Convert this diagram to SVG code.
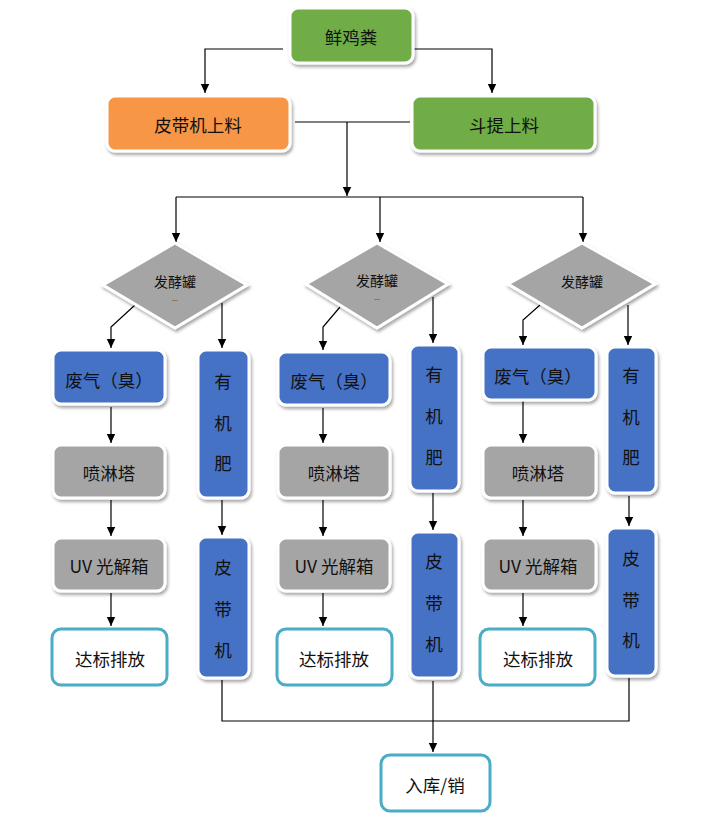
<svg xmlns="http://www.w3.org/2000/svg" width="711" height="821" viewBox="0 0 711 821">
<defs>
<filter id="sh" x="-20%" y="-20%" width="140%" height="140%">
<feDropShadow dx="1.5" dy="2.5" stdDeviation="1.5" flood-color="#000" flood-opacity="0.35"/>
</filter>
<marker id="ar" markerWidth="10" markerHeight="10" refX="9" refY="5" orient="auto" markerUnits="userSpaceOnUse">
<path d="M0,0.8 L9,5 L0,9.2 Z" fill="#000"/>
</marker>
</defs>
<style>
.b{stroke:#fff;stroke-width:3;filter:url(#sh)}
.g{fill:#70AD47}.o{fill:#F79646}.bl{fill:#4472C4}.gr{fill:#A5A5A5}
.w{fill:#fff;stroke:#4BACC6;stroke-width:3}
.t{font-family:"Noto Sans CJK SC","Liberation Sans",sans-serif;font-size:17.5px;fill:#111;text-anchor:middle;dominant-baseline:central}
.s{font-size:14px}
.d{font-size:7px;fill:#333}
.c line,.c polyline{stroke:#000;stroke-width:1.2;fill:none}
.a{marker-end:url(#ar)}
</style>
<rect width="711" height="821" fill="#fff"/>

<g class="c">
<polyline points="283,49 205,49 205,93" class="a"/>
<polyline points="414,49 492,49 492,93" class="a"/>
<line x1="295" y1="122" x2="410" y2="122"/>
<line x1="347" y1="122" x2="347" y2="196" class="a"/>
<line x1="176" y1="197" x2="583" y2="197"/>
<line x1="176" y1="197" x2="176" y2="242" class="a"/>
<line x1="380" y1="197" x2="380" y2="242" class="a"/>
<line x1="583" y1="197" x2="583" y2="242" class="a"/>
<polyline points="135,305 111,327 111,348" class="a"/>
<line x1="222" y1="303" x2="222" y2="348" class="a"/>
<polyline points="340,307 323,327 323,350" class="a"/>
<line x1="433" y1="297" x2="433" y2="343" class="a"/>
<polyline points="540,305 523,320 523,345" class="a"/>
<line x1="628" y1="305" x2="628" y2="345" class="a"/>
<line x1="111" y1="407" x2="111" y2="443" class="a"/>
<line x1="111" y1="500" x2="111" y2="536" class="a"/>
<line x1="111" y1="593" x2="111" y2="626" class="a"/>
<line x1="222" y1="500" x2="222" y2="535" class="a"/>
<line x1="323" y1="408" x2="323" y2="443" class="a"/>
<line x1="323" y1="500" x2="323" y2="536" class="a"/>
<line x1="323" y1="593" x2="323" y2="626" class="a"/>
<line x1="433" y1="493" x2="433" y2="530" class="a"/>
<line x1="523" y1="401" x2="523" y2="443" class="a"/>
<line x1="523" y1="500" x2="523" y2="536" class="a"/>
<line x1="523" y1="593" x2="523" y2="626" class="a"/>
<line x1="629" y1="496" x2="629" y2="526" class="a"/>
<polyline points="222,680 222,721 629,721 629,678"/>
<line x1="433" y1="681" x2="433" y2="752" class="a"/>
</g>

<g id="n-xianjifen"><rect class="b g" x="290" y="8" width="123" height="55" rx="8"/><text class="t" x="351" y="36">鲜鸡粪</text></g>
<g id="n-pidaiji-shangliao"><rect class="b o" x="107" y="96" width="183" height="55" rx="8"/><text class="t" x="198" y="124">皮带机上料</text></g>
<g id="n-doudi-shangliao"><rect class="b g" x="412" y="96" width="183" height="55" rx="8"/><text class="t" x="504" y="124">斗提上料</text></g>

<g id="n-fajiao1"><polygon class="b gr" points="175,243 247,285 175,328 103,285"/><text class="t s" x="175" y="281">发酵罐</text><text class="t d" x="175" y="298">...</text></g>
<g id="n-fajiao2"><polygon class="b gr" points="377,243 448,284 377,328 306,284"/><text class="t s" x="377" y="280">发酵罐</text><text class="t d" x="377" y="297">...</text></g>
<g id="n-fajiao3"><polygon class="b gr" points="582,243 655,284 582,328 508,284"/><text class="t s" x="582" y="281">发酵罐</text></g>

<g id="n-feiqi1"><rect class="b bl" x="53" y="350" width="112" height="54" rx="8"/><text class="t" x="109" y="379">废气（臭）</text></g>
<g id="n-penlin1"><rect class="b gr" x="53" y="445" width="112" height="53" rx="8"/><text class="t" x="109" y="472">喷淋塔</text></g>
<g id="n-uv1"><rect class="b gr" x="53" y="538" width="112" height="53" rx="8"/><text class="t" x="109" y="565">UV 光解箱</text></g>
<g id="n-dabiao1"><rect class="w" x="52" y="629" width="115" height="56" rx="9"/><text class="t" x="110" y="658">达标排放</text></g>
<g id="n-youjifei1"><rect class="b bl" x="198" y="350" width="51" height="148" rx="8"/><text class="t" x="223" y="380">有</text><text class="t" x="223" y="422">机</text><text class="t" x="223" y="462">肥</text></g>
<g id="n-pidai1"><rect class="b bl" x="198" y="537" width="51" height="141" rx="8"/><text class="t" x="223" y="566">皮</text><text class="t" x="223" y="608">带</text><text class="t" x="223" y="649">机</text></g>

<g id="n-feiqi2"><rect class="b bl" x="278" y="352" width="112" height="53" rx="8"/><text class="t" x="334" y="380">废气（臭）</text></g>
<g id="n-penlin2"><rect class="b gr" x="278" y="445" width="112" height="53" rx="8"/><text class="t" x="334" y="472">喷淋塔</text></g>
<g id="n-uv2"><rect class="b gr" x="278" y="538" width="112" height="53" rx="8"/><text class="t" x="334" y="565">UV 光解箱</text></g>
<g id="n-dabiao2"><rect class="w" x="277" y="629" width="115" height="56" rx="9"/><text class="t" x="334" y="658">达标排放</text></g>
<g id="n-youjifei2"><rect class="b bl" x="410" y="345" width="49" height="146" rx="8"/><text class="t" x="434" y="373">有</text><text class="t" x="434" y="415">机</text><text class="t" x="434" y="456">肥</text></g>
<g id="n-pidai2"><rect class="b bl" x="410" y="532" width="49" height="146" rx="8"/><text class="t" x="434" y="560">皮</text><text class="t" x="434" y="602">带</text><text class="t" x="434" y="643">机</text></g>

<g id="n-feiqi3"><rect class="b bl" x="483" y="347" width="113" height="53" rx="8"/><text class="t" x="538" y="375">废气（臭）</text></g>
<g id="n-penlin3"><rect class="b gr" x="483" y="445" width="113" height="53" rx="8"/><text class="t" x="538" y="472">喷淋塔</text></g>
<g id="n-uv3"><rect class="b gr" x="483" y="538" width="113" height="53" rx="8"/><text class="t" x="538" y="565">UV 光解箱</text></g>
<g id="n-dabiao3"><rect class="w" x="480" y="629" width="115" height="56" rx="9"/><text class="t" x="538" y="658">达标排放</text></g>
<g id="n-youjifei3"><rect class="b bl" x="607" y="347" width="49" height="146" rx="8"/><text class="t" x="631" y="374">有</text><text class="t" x="631" y="416">机</text><text class="t" x="631" y="456">肥</text></g>
<g id="n-pidai3"><rect class="b bl" x="607" y="528" width="49" height="148" rx="8"/><text class="t" x="631" y="557">皮</text><text class="t" x="631" y="599">带</text><text class="t" x="631" y="639">机</text></g>

<g id="n-ruku"><rect class="w" x="381" y="755" width="109" height="56" rx="9"/><text class="t" x="435" y="784">入库/销</text></g>
</svg>
